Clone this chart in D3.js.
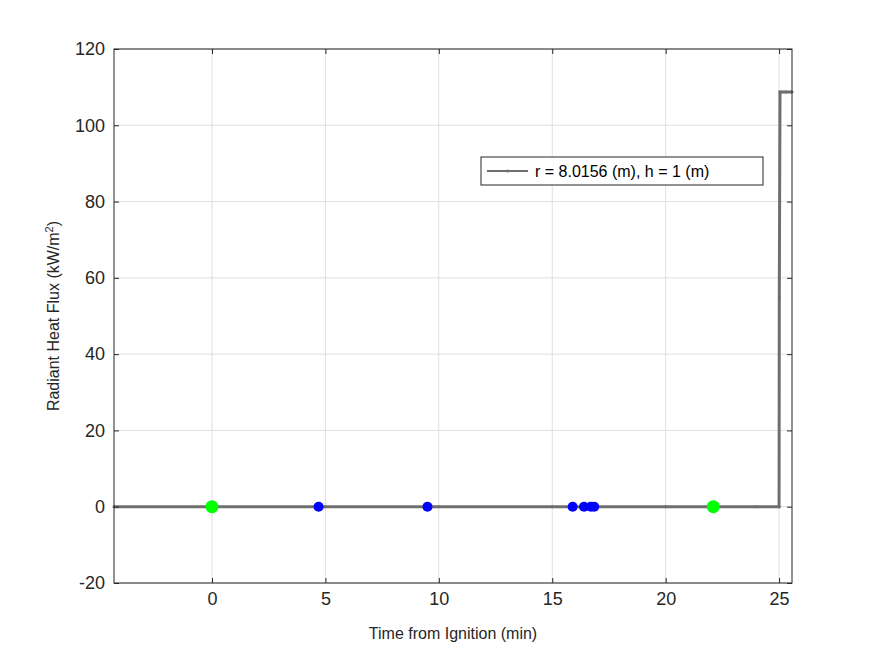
<!DOCTYPE html>
<html><head><meta charset="utf-8">
<script src="https://cdn.jsdelivr.net/npm/d3@7"></script>
<style>body{margin:0;background:#fff}text{font-family:Arial,"Liberation Sans",sans-serif}</style>
</head><body><div id="chart"></div>
<script>
var fluxTime = [-4.32, 0, 5, 10, 15, 20, 24.0, 25.0, 25.01, 25.04, 25.1, 25.3, 25.57];
var fluxValue = [0, 0, 0, 0, 0, 0, 0, 0, 54.8, 108.7, 108.7, 108.7, 108.7];
var blueTimes = [4.7, 9.5, 15.9, 16.4, 16.7, 16.85];
var greenTimes = [0, 22.1];
var xTicks = [0, 5, 10, 15, 20, 25];
var yTicks = [-20, 0, 20, 40, 60, 80, 100, 120];

var width = 875, height = 656;
var m = {left: 114, right: 83, top: 49, bottom: 73};
var svg = d3.select("#chart").append("svg").attr("width", width).attr("height", height);
var x = d3.scaleLinear().domain([-4.32, 25.57]).range([m.left, width - m.right]);
var y = d3.scaleLinear().domain([-20, 120]).range([height - m.bottom, m.top]);
var g = svg.append("g");

// grid
g.selectAll(".gx").data(xTicks).enter().append("line")
 .attr("x1", d => x(d)).attr("x2", d => x(d)).attr("y1", y(-20)).attr("y2", y(120))
 .attr("stroke", "#dfdfdf");
g.selectAll(".gy").data(yTicks).enter().append("line")
 .attr("y1", d => y(d)).attr("y2", d => y(d)).attr("x1", x.range()[0]).attr("x2", x.range()[1])
 .attr("stroke", "#dfdfdf");

// line
var line = d3.line().x((d, i) => x(fluxTime[i])).y(d => y(d));
g.append("path").attr("d", line(fluxValue)).attr("fill", "none")
 .attr("stroke", "#6e6e6e").attr("stroke-width", 3);
g.selectAll(".pt").data(fluxValue).enter().append("circle")
 .attr("cx", (d, i) => x(fluxTime[i])).attr("cy", d => y(d)).attr("r", 1.5).attr("fill", "#6e6e6e");

g.selectAll(".blue").data(blueTimes).enter().append("circle")
 .attr("cx", d => x(d)).attr("cy", y(0)).attr("r", 5).attr("fill", "#0000ff");
g.selectAll(".green").data(greenTimes).enter().append("circle")
 .attr("cx", d => x(d)).attr("cy", y(0)).attr("r", 6.5).attr("fill", "#00ff00");

// box
g.append("rect").attr("x", m.left).attr("y", m.top)
 .attr("width", width - m.left - m.right).attr("height", height - m.top - m.bottom)
 .attr("fill", "none").attr("stroke", "#262626");

var xa = svg.append("g").attr("transform", `translate(0,${y(-20)})`)
 .call(d3.axisBottom(x).tickValues(xTicks).tickSize(-5).tickPadding(9));
var xt = svg.append("g").attr("transform", `translate(0,${y(120)})`)
 .call(d3.axisTop(x).tickValues(xTicks).tickSize(-5).tickFormat(""));
var ya = svg.append("g").attr("transform", `translate(${x.range()[0]},0)`)
 .call(d3.axisLeft(y).tickValues(yTicks).tickSize(-5).tickPadding(9).tickFormat(d => String(d)));
var yr = svg.append("g").attr("transform", `translate(${x.range()[1]},0)`)
 .call(d3.axisRight(y).tickValues(yTicks).tickSize(-5).tickFormat(""));
[xa, xt, ya, yr].forEach(a => {
  a.select(".domain").remove();
  a.selectAll("line").attr("stroke", "#262626");
  a.selectAll("text").attr("fill", "#262626").style("font-size", "18px");
});

svg.append("text").attr("x", (x.range()[0] + x.range()[1]) / 2).attr("y", 639)
 .attr("text-anchor", "middle").attr("fill", "#262626").style("font-size", "16px")
 .text("Time from Ignition (min)");
var yl = svg.append("text").attr("transform", `translate(59,${y(50)}) rotate(-90)`)
 .attr("text-anchor", "middle").attr("fill", "#262626").style("font-size", "16px");
yl.append("tspan").text("Radiant Heat Flux (kW/m");
yl.append("tspan").attr("dy", -6).style("font-size", "11px").text("2");
yl.append("tspan").attr("dy", 6).text(")");

// legend
var lg = svg.append("g").attr("transform", "translate(481,157)");
lg.append("rect").attr("width", 282).attr("height", 28).attr("fill", "#fff").attr("stroke", "#262626");
lg.append("line").attr("x1", 6).attr("x2", 47).attr("y1", 14).attr("y2", 14)
 .attr("stroke", "#6e6e6e").attr("stroke-width", 2);
lg.append("circle").attr("cx", 26.5).attr("cy", 14).attr("r", 1.5).attr("fill", "#6e6e6e");
lg.append("text").attr("x", 54).attr("y", 20).attr("fill", "#000").style("font-size", "16px")
 .text("r = 8.0156 (m), h = 1 (m)");
</script></body></html>
